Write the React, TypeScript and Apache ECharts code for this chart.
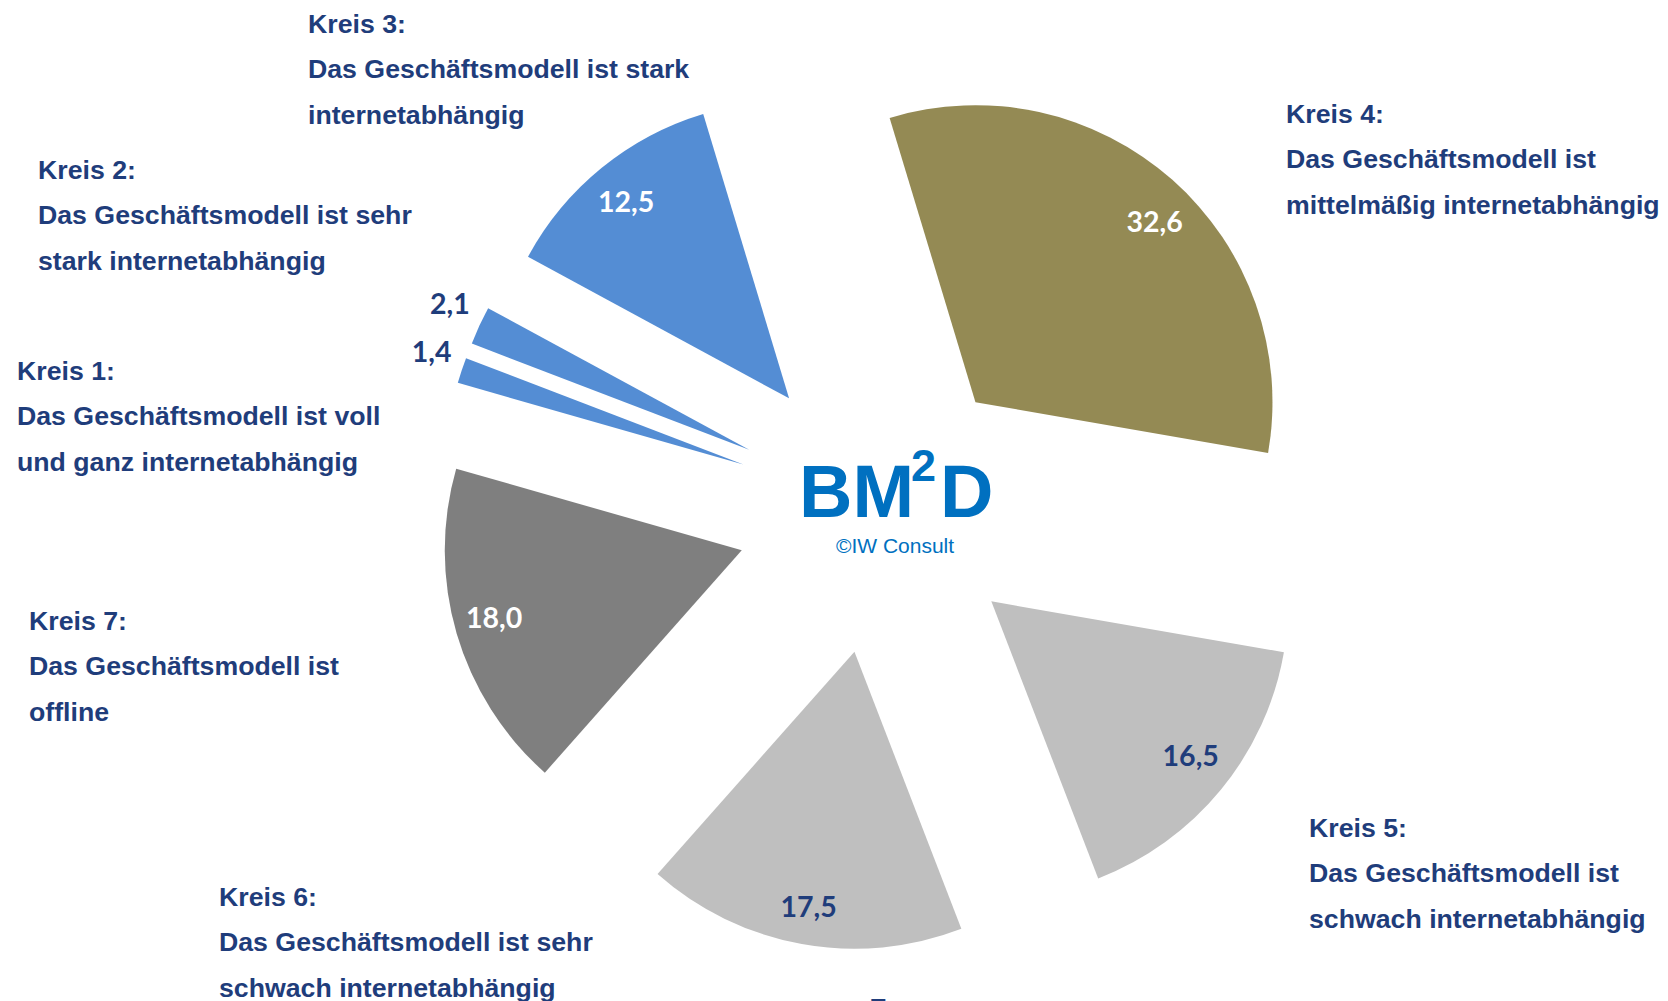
import React, { useEffect, useRef } from "react";
import * as echarts from "echarts";

// Slices in clockwise order, starting at the top (Kreis 4)
const sliceNames = ["Kreis 4", "Kreis 5", "Kreis 6", "Kreis 7", "Kreis 1", "Kreis 2", "Kreis 3"];
const sliceValues = [32.6, 16.5, 17.5, 18.0, 1.4, 2.1, 12.5];
const sliceColors = ["#948A54", "#BFBFBF", "#BFBFBF", "#7F7F7F", "#548DD4", "#548DD4", "#548DD4"];
const valueLabelColors = ["#FFFFFF", "#1F3D7B", "#1F3D7B", "#FFFFFF", "#1F3D7B", "#1F3D7B", "#FFFFFF"];
const valueLabelOutside = [false, false, false, false, true, true, false];
// small nudges of the value labels [dx, dy]
const valueLabelNudge: number[][] = [
  [8, 12],
  [0, -10],
  [0, 0],
  [0, -6],
  [6, -7],
  [5, -7],
  [0, 3],
];

// Descriptive texts for each circle
const kreisNames = ["Kreis 1", "Kreis 2", "Kreis 3", "Kreis 4", "Kreis 5", "Kreis 6", "Kreis 7"];
const kreisTexts = [
  "Das Geschäftsmodell ist voll\nund ganz internetabhängig",
  "Das Geschäftsmodell ist sehr\nstark internetabhängig",
  "Das Geschäftsmodell ist stark\ninternetabhängig",
  "Das Geschäftsmodell ist\nmittelmäßig internetabhängig",
  "Das Geschäftsmodell ist\nschwach internetabhängig",
  "Das Geschäftsmodell ist sehr\nschwach internetabhängig",
  "Das Geschäftsmodell ist\noffline",
];
// layout for the descriptive texts (top-left of the block)
const kreisPos: [number, number][] = [
  [17, 348],
  [38, 147],
  [308, 1],
  [1286, 91],
  [1309, 805],
  [219, 874],
  [29, 598],
];

const DARK_BLUE = "#1F3D7B";
const LOGO_BLUE = "#0070C0";
const CX = 880;
const CY = 510;
const R = 297;
const OFFSET = 144;
const START = 106.8;

const fmt = (v: number) => v.toFixed(1).replace(".", ",");

export default function App() {
  const ref = useRef<HTMLDivElement>(null);
  useEffect(() => {
    if (!ref.current) return;
    const chart = echarts.init(ref.current, undefined, { renderer: "svg" });

    const common = {
      type: "pie",
      center: [CX, CY],
      startAngle: START,
      clockwise: true,
      selectedMode: "multiple",
      selectedOffset: OFFSET,
      avoidLabelOverlap: false,
      silent: true,
      emphasis: { disabled: true },
      labelLine: { show: false },
    };

    const labelFont = {
      fontFamily: "Lato, 'Open Sans', sans-serif",
      fontWeight: "bold",
      fontSize: 28.5,
    };

    const mainSeries = {
      ...common,
      radius: [0, R],
      label: { show: false },
      select: { itemStyle: { borderWidth: 0 } },
      data: sliceValues.map((v, i) => ({
        name: sliceNames[i],
        value: v,
        selected: true,
        itemStyle: { color: sliceColors[i] },
      })),
    };

    const labelSeries = (radius: number[], outside: boolean) => ({
      ...common,
      radius,
      z: 3,
      label: { show: true, position: "inside", formatter: (p: any) => fmt(p.value), ...labelFont },
      labelLayout: (p: any) => ({
        dx: valueLabelNudge[p.dataIndex][0],
        dy: valueLabelNudge[p.dataIndex][1],
      }),
      data: sliceValues.map((v, i) => ({
        name: sliceNames[i],
        value: v,
        selected: true,
        itemStyle: { color: "rgba(0,0,0,0)" },
        label: {
          show: valueLabelOutside[i] === outside,
          color: valueLabelColors[i],
        },
      })),
    });

    const kreisFont = 'bold 26.7px "Liberation Sans", Arial, sans-serif';
    const graphics: any[] = kreisNames.map((n, i) => ({
      type: "text",
      x: kreisPos[i][0],
      y: kreisPos[i][1],
      silent: true,
      style: {
        text: n + ":\n" + kreisTexts[i],
        font: kreisFont,
        fill: DARK_BLUE,
        lineHeight: 45.5,
        align: "left",
        verticalAlign: "top",
      },
    }));

    const logoFont = 'bold 74px "Liberation Sans", Arial, sans-serif';
    graphics.push(
      {
        type: "text",
        x: 799,
        y: 491,
        silent: true,
        style: { text: "BM", font: logoFont, fill: LOGO_BLUE, align: "left", verticalAlign: "middle" },
      },
      {
        type: "text",
        x: 911,
        y: 465,
        silent: true,
        style: {
          text: "2",
          font: 'bold 45px "Liberation Sans", Arial, sans-serif',
          fill: LOGO_BLUE,
          align: "left",
          verticalAlign: "middle",
        },
      },
      {
        type: "text",
        x: 940,
        y: 491,
        silent: true,
        style: { text: "D", font: logoFont, fill: LOGO_BLUE, align: "left", verticalAlign: "middle" },
      },
      {
        type: "text",
        x: 895,
        y: 545,
        silent: true,
        style: {
          text: "©IW Consult",
          font: '21px "Liberation Sans", Arial, sans-serif',
          fill: LOGO_BLUE,
          align: "center",
          verticalAlign: "middle",
        },
      },
      {
        type: "text",
        x: 878,
        y: 1009,
        silent: true,
        style: {
          text: "7",
          font: "bold 28px Lato, sans-serif",
          fill: DARK_BLUE,
          align: "center",
          verticalAlign: "middle",
        },
      }
    );

    chart.setOption({
      animation: false,
      backgroundColor: "#FFFFFF",
      series: [mainSeries, labelSeries([213, R], false), labelSeries([310, 354], true)],
      graphic: graphics,
    });

    return () => chart.dispose();
  }, []);

  return (
    <div
      ref={ref}
      style={{ position: "absolute", left: 0, top: 0, width: 1668, height: 1001, background: "#FFFFFF" }}
    />
  );
}
